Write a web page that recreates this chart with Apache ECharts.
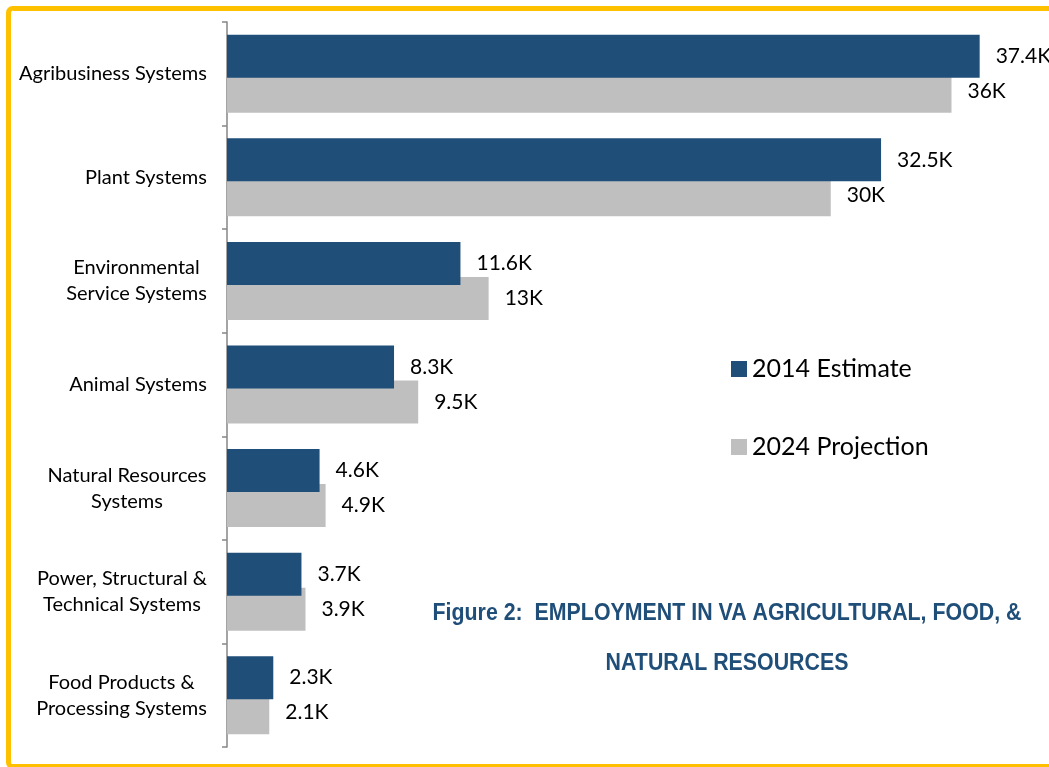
<!DOCTYPE html>
<html>
<head>
<meta charset="utf-8">
<script src="https://cdn.jsdelivr.net/npm/echarts@6/dist/echarts.min.js"></script>
<style>
html,body{margin:0;padding:0;background:#fff;}
#chart{width:1049px;height:767px;}
</style>
</head>
<body>
<div id="chart"></div>
<script>
const categories = ['Agribusiness Systems', 'Plant Systems', 'Environmental\nService Systems', 'Animal Systems', 'Natural Resources\nSystems', 'Power, Structural &\nTechnical Systems', 'Food Products &\nProcessing Systems'];
const estimate2014 = [37.4, 32.5, 11.6, 8.3, 4.6, 3.7, 2.3];
const projection2024 = [36, 30, 13, 9.5, 4.9, 3.9, 2.1];
const seriesNames = ['2014 Estimate', '2024 Projection'];
const titleLines = ['Figure 2:  EMPLOYMENT IN VA AGRICULTURAL, FOOD, &', 'NATURAL RESOURCES'];

const FONT = 'Lato, "Open Sans", sans-serif';
const catFontSize = 20;
// measure each category block width so that its lines are centred inside a right-aligned block
const ctx = document.createElement('canvas').getContext('2d');
ctx.font = catFontSize + 'px ' + FONT;
const rich = {};
categories.forEach((c, i) => {
  const w = Math.max(...c.split('\n').map(l => ctx.measureText(l).width));
  rich['c' + i] = {width: Math.ceil(w), align: 'center', fontFamily: FONT, fontSize: catFontSize, color: '#000', lineHeight: 26};
});

const chart = echarts.init(document.getElementById('chart'));
const labelFont = {fontFamily: FONT, fontSize: 21, color: '#000'};
chart.setOption({
  animation: false,
  grid: {left: 227, top: 22, bottom: 20, width: 805},
  xAxis: {type: 'value', min: 0, max: 40, show: false},
  yAxis: {
    type: 'category', data: categories, inverse: true,
    axisLine: {show: true, lineStyle: {color: '#868686', width: 1.5}},
    axisTick: {show: true, length: 5, lineStyle: {color: '#868686', width: 1.5}},
    axisLabel: {
      margin: 20, align: 'right', fontFamily: FONT, fontSize: catFontSize, color: '#000', lineHeight: 26,
      formatter: (v, i) => v.split('\n').map(l => '{c' + i + '|' + l + '}').join('\n'),
      rich: rich
    },
    splitLine: {show: false}
  },
  legend: {
    orient: 'vertical', left: 726, top: 350, itemWidth: 16, itemHeight: 16, itemGap: 50,
    icon: 'rect',
    textStyle: {fontFamily: FONT, fontSize: 25, color: '#000', lineHeight: 28},
    data: seriesNames
  },
  series: [
    {name: seriesNames[0], type: 'bar', data: estimate2014, barWidth: 43, barGap: '-18.6%', z: 3,
     itemStyle: {color: '#1F4E79'},
     label: {show: true, position: 'right', distance: 16, formatter: p => p.value + 'K', ...labelFont}},
    {name: seriesNames[1], type: 'bar', data: projection2024, barWidth: 43, barGap: '-18.6%', z: 2,
     itemStyle: {color: '#BFBFBF'},
     label: {show: true, position: 'right', distance: 16, formatter: p => p.value + 'K', ...labelFont}}
  ],
  graphic: [
    {type: 'rect', silent: true, z: 100, shape: {x: 8.5, y: 8.5, width: 1060, height: 758, r: 4},
     style: {fill: 'none', stroke: '#FFC000', lineWidth: 5}},
    {type: 'text', x: 727, y: 613, scaleX: 0.89, z: 50,
     style: {text: titleLines[0], textAlign: 'center', textVerticalAlign: 'middle', fill: '#1F4E79',
       font: 'bold 24px "Liberation Sans", Arial, sans-serif'}},
    {type: 'text', x: 727, y: 663, scaleX: 0.89, z: 50,
     style: {text: titleLines[1], textAlign: 'center', textVerticalAlign: 'middle', fill: '#1F4E79',
       font: 'bold 24px "Liberation Sans", Arial, sans-serif'}}
  ]
});
</script>
</body>
</html>
